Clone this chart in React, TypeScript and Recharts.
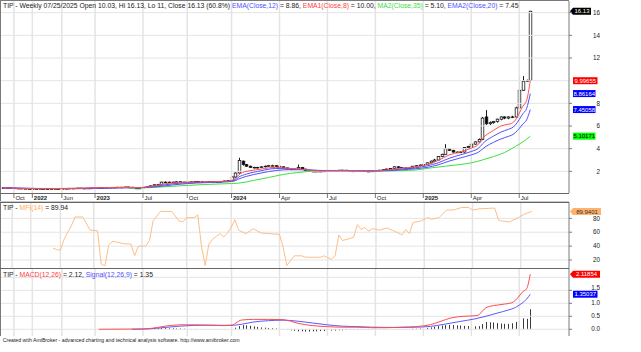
import React from 'react';
import { ComposedChart, Bar, Line, XAxis, YAxis, ReferenceLine } from 'recharts';

// weekly bars, index 0 = first visible week (Oct 2021)
const SLOTS = 154;

const opens = [
  0.55, 0.55, 0.54, 0.52, 0.5, 0.5, 0.48, 0.47, 0.45, 0.45,
  0.46, 0.47, 0.46, 0.45, 0.46, 0.47, 0.46, 0.47, 0.48, 0.5,
  0.5, 0.52, 0.5, 0.5, 0.51, 0.52, 0.53, 0.55, 0.55, 0.56,
  0.58, 0.58, 0.6, 0.6, 0.62, 0.6, 0.58, 0.46, 0.55, 0.6,
  0.65, 0.72, 0.82, 0.85, 1.05, 1.05, 1.02, 1.05, 1.08, 1.05,
  1.03, 1.05, 1.08, 1.1, 1.08, 1.05, 1.06, 1.1, 1.08, 1.05,
  1.1, 1.15, 1.2, 1.5, 1.85, 2.9, 2.6, 2.45, 2.35, 2.3,
  2.35, 2.4, 2.45, 2.5, 2.5, 2.45, 2.4, 2.3, 2.2, 2.15,
  2.2, 2.35, 2.2, 2.05, 2.0, 2.0, 1.98, 2.0, 2.02, 2.05,
  2.05, 2.08, 2.1, 2.1, 2.05, 2.0, 2.02, 2.05, 2.05, 2.0,
  2.0, 2.02, 2.05, 2.1, 2.15, 2.2, 2.25, 2.4, 2.35, 2.3,
  2.28, 2.3, 2.45, 2.5, 2.55, 2.6, 2.75, 2.9, 3.0, 3.3,
  3.5, 4.0, 3.85, 3.7, 3.65, 3.7, 4.1, 4.2, 4.4, 4.6,
  4.8, 6.8, 6.2, 6.3, 6.4, 6.6, 6.8, 6.7, 6.8, 6.8,
  7.6, 9.15, 9.95, 10.03,
];
const highs = [
  0.56, 0.56, 0.55, 0.53, 0.51, 0.51, 0.49, 0.48, 0.46, 0.47,
  0.48, 0.48, 0.47, 0.47, 0.48, 0.48, 0.48, 0.49, 0.51, 0.51,
  0.53, 0.53, 0.51, 0.52, 0.53, 0.54, 0.56, 0.56, 0.57, 0.59,
  0.6, 0.61, 0.62, 0.63, 0.63, 0.61, 0.6, 0.56, 0.62, 0.67,
  0.74, 0.84, 0.88, 1.08, 1.1, 1.08, 1.08, 1.1, 1.1, 1.07,
  1.07, 1.1, 1.12, 1.12, 1.1, 1.08, 1.12, 1.12, 1.1, 1.12,
  1.17, 1.22, 1.55, 1.9, 3.2, 2.95, 2.65, 2.5, 2.4, 2.4,
  2.45, 2.5, 2.55, 2.58, 2.55, 2.5, 2.42, 2.32, 2.25, 2.25,
  2.6, 2.38, 2.22, 2.08, 2.05, 2.03, 2.03, 2.05, 2.08, 2.08,
  2.1, 2.12, 2.14, 2.12, 2.07, 2.05, 2.07, 2.08, 2.07, 2.03,
  2.05, 2.08, 2.13, 2.18, 2.23, 2.28, 2.45, 2.45, 2.38, 2.33,
  2.33, 2.48, 2.55, 2.6, 2.65, 2.8, 2.95, 3.1, 3.35, 3.55,
  4.4, 4.05, 3.9, 3.75, 3.75, 4.15, 4.25, 4.45, 4.65, 4.9,
  6.8, 7.4, 6.4, 6.45, 6.65, 6.85, 6.85, 6.85, 6.9, 7.7,
  10.4, 10.4, 10.1, 16.13,
];
const lows = [
  0.54, 0.54, 0.51, 0.49, 0.49, 0.47, 0.46, 0.44, 0.44, 0.44,
  0.45, 0.45, 0.44, 0.44, 0.45, 0.45, 0.45, 0.46, 0.47, 0.49,
  0.49, 0.49, 0.49, 0.49, 0.5, 0.51, 0.52, 0.54, 0.54, 0.55,
  0.56, 0.57, 0.59, 0.59, 0.59, 0.57, 0.44, 0.45, 0.54, 0.59,
  0.64, 0.7, 0.8, 0.83, 1.0, 0.99, 1.0, 1.03, 1.03, 1.0,
  1.01, 1.03, 1.06, 1.06, 1.03, 1.03, 1.04, 1.06, 1.03, 1.04,
  1.08, 1.13, 1.18, 1.45, 1.8, 2.5, 2.4, 2.3, 2.25, 2.25,
  2.3, 2.35, 2.4, 2.45, 2.4, 2.35, 2.25, 2.15, 2.1, 2.12,
  2.15, 2.15, 2.0, 1.95, 1.95, 1.95, 1.96, 1.98, 2.0, 2.02,
  2.03, 2.05, 2.07, 2.02, 1.97, 1.98, 2.0, 2.02, 1.97, 1.97,
  1.98, 2.0, 2.05, 2.08, 2.13, 2.18, 2.22, 2.3, 2.27, 2.25,
  2.25, 2.28, 2.42, 2.48, 2.52, 2.58, 2.72, 2.85, 2.95, 3.25,
  3.45, 3.8, 3.65, 3.6, 3.6, 3.65, 4.05, 4.15, 4.35, 4.55,
  4.75, 6.1, 6.1, 6.2, 6.3, 6.5, 6.6, 6.6, 6.7, 6.75,
  7.5, 9.1, 9.9, 11,
];
const closes = [
  0.55, 0.54, 0.52, 0.5, 0.5, 0.48, 0.47, 0.45, 0.45, 0.46,
  0.47, 0.46, 0.45, 0.46, 0.47, 0.46, 0.47, 0.48, 0.5, 0.5,
  0.52, 0.5, 0.5, 0.51, 0.52, 0.53, 0.55, 0.55, 0.56, 0.58,
  0.58, 0.6, 0.6, 0.62, 0.6, 0.58, 0.46, 0.55, 0.6, 0.65,
  0.72, 0.82, 0.85, 1.05, 1.05, 1.02, 1.05, 1.08, 1.05, 1.03,
  1.05, 1.08, 1.1, 1.08, 1.05, 1.06, 1.1, 1.08, 1.05, 1.1,
  1.15, 1.2, 1.5, 1.85, 2.95, 2.6, 2.45, 2.35, 2.3, 2.35,
  2.4, 2.45, 2.5, 2.5, 2.45, 2.4, 2.3, 2.2, 2.15, 2.2,
  2.35, 2.2, 2.05, 2.0, 2.0, 1.98, 2.0, 2.02, 2.05, 2.05,
  2.08, 2.1, 2.1, 2.05, 2.0, 2.02, 2.05, 2.05, 2.0, 2.0,
  2.02, 2.05, 2.1, 2.15, 2.2, 2.25, 2.4, 2.35, 2.3, 2.28,
  2.3, 2.45, 2.5, 2.55, 2.6, 2.75, 2.9, 3.0, 3.3, 3.5,
  4.0, 3.85, 3.7, 3.65, 3.7, 4.1, 4.2, 4.4, 4.6, 4.8,
  6.7, 6.2, 6.3, 6.4, 6.6, 6.8, 6.7, 6.8, 6.75, 7.6,
  9.15, 9.95, 10.0, 16.13,
];

// moving averages: [bar index, value]
const ema8: [number, number][] = [
  [0, 0.55], [10, 0.47], [20, 0.5], [30, 0.58], [37, 0.56], [40, 0.66], [43, 0.85], [46, 0.98],
  [50, 1.04], [55, 1.07], [60, 1.12], [62, 1.2], [63, 1.35], [64, 1.7], [65, 1.9], [67, 2.05],
  [70, 2.2], [74, 2.35], [78, 2.25], [82, 2.15], [86, 2.02], [90, 2.05], [95, 2.05], [100, 2.03],
  [104, 2.12], [108, 2.28], [112, 2.4], [115, 2.6], [118, 2.95], [121, 3.45], [124, 3.7],
  [127, 4.05], [129, 4.4], [130, 4.9], [131, 5.2], [133, 5.6], [135, 6.0], [137, 6.15],
  [138, 6.24], [139, 6.54], [140, 7.12], [141, 7.75], [142, 8.25], [143, 10.0],
];
const ema12: [number, number][] = [
  [0, 0.55], [10, 0.48], [20, 0.49], [30, 0.56], [37, 0.56], [40, 0.62], [43, 0.76], [46, 0.9],
  [50, 0.99], [55, 1.04], [60, 1.09], [62, 1.14], [63, 1.25], [64, 1.5], [66, 1.75], [70, 2.05],
  [74, 2.25], [78, 2.22], [82, 2.16], [86, 2.06], [90, 2.05], [95, 2.05], [100, 2.03], [104, 2.08],
  [108, 2.2], [112, 2.32], [115, 2.48], [118, 2.75], [121, 3.15], [124, 3.45], [127, 3.75],
  [129, 4.05], [130, 4.4], [131, 4.7], [133, 5.1], [135, 5.45], [137, 5.7], [138, 5.83],
  [139, 6.1], [140, 6.57], [141, 7.09], [142, 7.54], [143, 8.86],
];
const ema20: [number, number][] = [
  [0, 0.55], [10, 0.49], [20, 0.48], [30, 0.54], [37, 0.56], [40, 0.6], [43, 0.68], [46, 0.8],
  [50, 0.92], [55, 1.0], [60, 1.06], [62, 1.1], [63, 1.17], [64, 1.33], [66, 1.55], [70, 1.85],
  [74, 2.07], [78, 2.15], [82, 2.13], [86, 2.08], [90, 2.06], [95, 2.05], [100, 2.03], [104, 2.05],
  [108, 2.13], [112, 2.23], [115, 2.35], [118, 2.57], [121, 2.9], [124, 3.18], [127, 3.45],
  [129, 3.7], [130, 3.95], [131, 4.2], [133, 4.55], [135, 4.85], [137, 5.08], [138, 5.2],
  [139, 5.43], [140, 5.78], [141, 6.18], [142, 6.54], [143, 7.45],
];
const ma35: [number, number][] = [
  [34, 0.52], [38, 0.54], [42, 0.6], [46, 0.68], [50, 0.76], [55, 0.84], [60, 0.9], [64, 0.96],
  [68, 1.2], [72, 1.45], [76, 1.72], [80, 1.9], [84, 2.02], [88, 2.08], [92, 2.08], [96, 2.06],
  [100, 2.05], [104, 2.04], [108, 2.06], [112, 2.12], [116, 2.3], [120, 2.45], [124, 2.6],
  [127, 2.75], [130, 3.0], [133, 3.3], [136, 3.65], [139, 4.2], [141, 4.6], [143, 5.1],
];

const mfi: [number, number][] = [
  [14, 37], [15, 35], [16, 34], [17, 50], [18, 60], [19, 70], [20, 82], [22, 82], [24, 63],
  [26, 62], [27, 14], [28, 11.5], [29, 41], [30, 47], [31, 46], [33, 43.5], [35, 43], [36, 26],
  [37, 40], [39, 40], [40, 48], [41, 77], [43, 90], [46, 90], [48, 76], [49, 75], [50, 81],
  [52, 81], [53, 85], [54, 40], [55, 12], [56, 43], [57, 50], [59, 58], [60, 53], [61, 59],
  [62, 67], [63, 78], [64, 63], [66, 58], [68, 65], [70, 59], [72, 58], [75, 57], [76, 38.5],
  [77, 12], [79, 26], [81, 26], [82, 24], [86, 24], [87, 26], [89, 21], [90, 26], [91, 56],
  [92, 48], [94, 51], [95, 53], [96, 71], [97, 64], [98, 67], [99, 61.5], [100, 65], [102, 63],
  [104, 66], [106, 61.5], [108, 56], [109, 64], [110, 58], [111, 74], [113, 76], [115, 81],
  [116, 78.5], [118, 81], [120, 92], [122, 92], [124, 95.6], [126, 95.6], [127, 92], [129, 93.7],
  [132, 94.6], [133, 94.6], [134, 77.6], [135, 76], [137, 75], [139, 80], [141, 86], [143, 89.94],
];

const macd: [number, number][] = [
  [26, 0], [32, 0.005], [38, 0.01], [40, 0.03], [42, 0.07], [44, 0.12], [46, 0.15], [48, 0.17],
  [52, 0.17], [56, 0.15], [60, 0.14], [62, 0.15], [63, 0.22], [64, 0.32], [65, 0.36], [68, 0.38],
  [72, 0.38], [76, 0.37], [78, 0.31], [80, 0.23], [84, 0.14], [88, 0.1], [92, 0.08], [96, 0.08],
  [100, 0.06], [104, 0.06], [108, 0.08], [112, 0.1], [114, 0.13], [116, 0.18], [118, 0.27],
  [120, 0.37], [122, 0.45], [125, 0.5], [128, 0.52], [129, 0.55], [130, 0.7], [131, 0.83],
  [132, 0.88], [134, 0.93], [136, 0.97], [138, 1.02], [139, 1.12], [140, 1.28], [141, 1.45],
  [142, 1.56], [143, 2.12],
];
const signal: [number, number][] = [
  [35, 0.0], [40, 0.02], [44, 0.07], [48, 0.12], [52, 0.15], [56, 0.16], [60, 0.15], [63, 0.16],
  [65, 0.2], [68, 0.28], [72, 0.33], [76, 0.35], [80, 0.31], [84, 0.24], [88, 0.17], [92, 0.12],
  [96, 0.1], [100, 0.08], [104, 0.07], [108, 0.07], [112, 0.08], [116, 0.11], [120, 0.2],
  [124, 0.3], [128, 0.4], [131, 0.5], [134, 0.62], [137, 0.74], [139, 0.84], [140, 0.93],
  [141, 1.03], [142, 1.16], [143, 1.35],
];
// histogram, one value per bar from HIST_START
const HIST_START = 38;
const histValues = [
  0.01, 0.02, 0.02, 0.03, 0.04, 0.05, 0.05, 0.04, 0.04, 0.03,
  0.03, 0.02, 0.02, 0.01, 0.01, 0.0, -0.01, -0.01, -0.01, -0.01,
  -0.01, -0.01, -0.01, 0.0, 0.0, 0.06, 0.12, 0.16, 0.15, 0.13,
  0.11, 0.09, 0.07, 0.06, 0.05, 0.04, 0.03, 0.02, 0.01, -0.02,
  -0.04, -0.06, -0.08, -0.08, -0.09, -0.09, -0.08, -0.08, -0.07, -0.07,
  -0.06, -0.05, -0.05, -0.04, -0.04, -0.03, -0.03, -0.02, -0.02, -0.02,
  -0.02, -0.02, -0.02, -0.01, -0.01, -0.01, -0.01, 0.0, 0.01, 0.01,
  0.01, 0.01, 0.01, 0.02, 0.02, 0.03, 0.04, 0.05, 0.07, 0.1,
  0.12, 0.14, 0.16, 0.17, 0.16, 0.15, 0.14, 0.13, 0.12, 0.11,
  0.11, 0.12, 0.2, 0.28, 0.27, 0.26, 0.24, 0.22, 0.21, 0.21,
  0.23, 0.28, 0.35, 0.42, 0.4, 0.77,
];

const dateTicks = [3, 8, 16, 25, 38, 50, 62, 75, 88, 101, 114, 127, 140];
const dateLabels = ['Oct', '2022', 'Jun', '2023', 'Jul', 'Oct', '2024', 'Apr', 'Jul', 'Oct', '2025', 'Apr', 'Jul'];

// grid levels, and the axis labels left visible beside the value tags
const priceGrid = [2, 4, 6, 8, 10, 12, 14, 16];
const priceTicks = [2, 4, 6, 8, 12, 14, 16];
const mfiTicks = [20, 40, 60, 80];
const macdGrid = [0, 0.5, 1, 1.5, 2];
const macdTicks = [0, 0.5, 1, 1.5];

const FONT = '"Liberation Sans", Arial, sans-serif';
const GRID = '#e4e4e4';
const AXIS = '#7a7a7a';

const pick = (pts: [number, number][], i: number) => {
  const p = pts.find((q) => q[0] === i);
  return p ? p[1] : null;
};

const rows = Array.from({ length: SLOTS }, (_, i) => {
  const has = i < closes.length;
  const hv = i >= HIST_START && i - HIST_START < histValues.length ? histValues[i - HIST_START] : null;
  return {
    i,
    o: has ? opens[i] : null,
    h: has ? highs[i] : null,
    l: has ? lows[i] : null,
    c: has ? closes[i] : null,
    hl: has ? [Math.min(lows[i], opens[i]), highs[i]] : null,
    ema8: pick(ema8, i),
    ema12: pick(ema12, i),
    ema20: pick(ema20, i),
    ma35: pick(ma35, i),
    mfi: pick(mfi, i),
    macd: pick(macd, i),
    signal: pick(signal, i),
    hist: hv,
  };
});

const Candle = (props: any) => {
  const { x, y, width, height, payload } = props;
  if (!payload || payload.c == null || x == null) return null;
  const cx = Math.round(x + width / 2) + 0.5;
  const top = Math.min(y, y + height);
  const bot = Math.max(y, y + height);
  const lo = payload.hl[0];
  const span = payload.h - lo;
  const k = span > 0 ? (bot - top) / span : 0;
  const yo = top + (payload.h - payload.o) * k;
  const yc = top + (payload.h - payload.c) * k;
  const yl = top + (payload.h - payload.l) * k;
  const up = payload.c >= payload.o;
  const bTop = Math.min(yo, yc);
  const bH = Math.max(Math.abs(yo - yc), 0.6);
  return (
    <g>
      <line x1={cx} x2={cx} y1={top} y2={yl} stroke="#1a1a1a" strokeWidth={1} />
      <rect x={cx - 1.3} y={bTop} width={2.6} height={bH} fill={up ? '#ffffff' : '#000000'} stroke="#1a1a1a" strokeWidth={0.8} />
    </g>
  );
};

const HistBar = (props: any) => {
  const { x, y, width, height } = props;
  if (x == null || !height) return null;
  const cx = Math.round(x + width / 2) + 0.5;
  return <line x1={cx} x2={cx} y1={y} y2={y + height} stroke="#3a3a3a" strokeWidth={1} />;
};

// lift: labels that sit half under a value tag are nudged up a little
const AxisTick = (props: any) => {
  const { y, payload, fmt, lift } = props;
  const dy = lift && lift[payload.value] ? lift[payload.value] : 0;
  return (
    <text x={600} y={y + 2.2 - dy} textAnchor="end" fontSize={6.3} fill="#222">
      {fmt ? fmt(payload.value) : payload.value}
    </text>
  );
};

function Tag(props: any) {
  const { viewBox, text, bg, fg, arrow, w } = props;
  if (!viewBox) return null;
  const right = viewBox.x + viewBox.width;
  const cy = viewBox.y;
  const x0 = right + 4;
  const h = 7;
  const d = arrow
    ? `M${right + 1},${cy} L${x0},${cy - h / 2} L${x0 + w},${cy - h / 2} L${x0 + w},${cy + h / 2} L${x0},${cy + h / 2} Z`
    : `M${x0},${cy - h / 2} h${w} v${h} h${-w} Z`;
  return (
    <g>
      <path d={d} fill={bg} />
      <text x={x0 + w / 2} y={cy + 2.2} textAnchor="middle" fontSize={6} fill={fg}>
        {text}
      </text>
    </g>
  );
}

function DateLabel(props: any) {
  const { viewBox, text } = props;
  if (!viewBox) return null;
  const x = viewBox.x;
  const bottom = viewBox.y + viewBox.height;
  const bold = /^\d+$/.test(text);
  return (
    <g>
      <line x1={x} x2={x} y1={bottom + 1} y2={bottom + 5} stroke="#555" strokeWidth={0.8} />
      <text x={x + 1.5} y={bottom + 7.2} fontSize={6} fontWeight={bold ? 'bold' : 'normal'} fill="#222">
        {text}
      </text>
    </g>
  );
}

const vGrid = (withLabels: boolean) =>
  dateTicks.map((t, k) => (
    <ReferenceLine
      key={'v' + t}
      x={t}
      stroke={GRID}
      strokeWidth={1.5}
      label={withLabels ? <DateLabel text={dateLabels[k]} /> : undefined}
    />
  ));

const hGrid = (ticks: number[]) =>
  ticks.map((t) => <ReferenceLine key={'h' + t} y={t} stroke={GRID} strokeWidth={1} />);

const yAxisProps = {
  orientation: 'right' as const,
  width: 72,
  allowDataOverflow: true,
  interval: 0 as const,
  tickSize: 3,
  tickLine: { stroke: AXIS },
  axisLine: { stroke: AXIS },
};

function PricePane() {
  return (
    <ComposedChart width={641} height={202} data={rows} margin={{ top: 1, right: 0, bottom: 9, left: 1 }}>
      <XAxis dataKey="i" type="category" hide />
      <YAxis {...yAxisProps} domain={[0.088, 17.03]} ticks={priceTicks} tick={<AxisTick />} />
      {hGrid(priceGrid)}
      {vGrid(true)}
      <Bar dataKey="hl" shape={<Candle />} isAnimationActive={false} />
      <Line dataKey="ma35" stroke="#3ee03e" strokeWidth={1} dot={false} connectNulls type="monotone" isAnimationActive={false} />
      <Line dataKey="ema20" stroke="#5050ff" strokeWidth={1} dot={false} connectNulls type="monotone" isAnimationActive={false} />
      <Line dataKey="ema12" stroke="#5050ff" strokeWidth={1} dot={false} connectNulls type="monotone" isAnimationActive={false} />
      <Line dataKey="ema8" stroke="#ff5050" strokeWidth={1} dot={false} connectNulls type="monotone" isAnimationActive={false} />
      <ReferenceLine y={closes[closes.length - 1]} stroke="none" label={<Tag text="16.13" bg="#000" fg="#fff" w={18} arrow />} />
      <ReferenceLine y={9.99655} stroke="none" label={<Tag text="9.99655" bg="#ff0000" fg="#fff" w={24.5} />} />
      <ReferenceLine y={8.86164} stroke="none" label={<Tag text="8.86164" bg="#0000ff" fg="#fff" w={22.5} />} />
      <ReferenceLine y={7.45058} stroke="none" label={<Tag text="7.45058" bg="#0000ff" fg="#fff" w={22.5} />} />
      <ReferenceLine y={5.10171} stroke="none" label={<Tag text="5.10171" bg="#00ff00" fg="#000" w={22.5} />} />
    </ComposedChart>
  );
}

function MfiPane() {
  return (
    <ComposedChart width={641} height={66} data={rows} margin={{ top: 0, right: 0, bottom: 0, left: 1 }}>
      <XAxis dataKey="i" type="category" hide />
      <YAxis {...yAxisProps} domain={[8.5, 103.5]} ticks={mfiTicks} tick={<AxisTick />} />
      {hGrid(mfiTicks)}
      {vGrid(false)}
      <Line dataKey="mfi" stroke="#ffbe85" strokeWidth={1} dot={false} connectNulls type="linear" isAnimationActive={false} />
      <ReferenceLine y={89.9401} stroke="none" label={<Tag text="89.9401" bg="#ffb26b" fg="#333" w={28} arrow />} />
    </ComposedChart>
  );
}

function MacdPane() {
  return (
    <ComposedChart width={641} height={68} data={rows} margin={{ top: 0, right: 0, bottom: 0, left: 1 }}>
      <XAxis dataKey="i" type="category" hide />
      <YAxis
        {...yAxisProps}
        domain={[-0.26, 2.36]}
        ticks={macdTicks}
        tick={<AxisTick fmt={(v: number) => v.toFixed(1)} lift={{ 1.5: 2.2 }} />}
      />
      {hGrid(macdGrid)}
      {vGrid(false)}
      <Bar dataKey="hist" shape={<HistBar />} isAnimationActive={false} />
      <Line dataKey="signal" stroke="#5a5aff" strokeWidth={1} dot={false} connectNulls type="monotone" isAnimationActive={false} />
      <Line dataKey="macd" stroke="#ff4c4c" strokeWidth={1} dot={false} connectNulls type="monotone" isAnimationActive={false} />
      <ReferenceLine y={2.11854} stroke="none" label={<Tag text="2.11854" bg="#ff0000" fg="#fff" w={27} arrow />} />
      <ReferenceLine y={1.35037} stroke="none" label={<Tag text="1.35037" bg="#0000ff" fg="#fff" w={24.5} />} />
    </ComposedChart>
  );
}

export default function App() {
  return (
    <div style={{ position: 'absolute', left: 0, top: 0, width: 641, height: 352, background: '#fff', fontFamily: FONT, overflow: 'hidden' }}>
      <div style={{ position: 'absolute', left: 0, top: 0 }}>
        <PricePane />
      </div>
      <div style={{ position: 'absolute', left: 0, top: 202 }}>
        <MfiPane />
      </div>
      <div style={{ position: 'absolute', left: 0, top: 268 }}>
        <MacdPane />
      </div>
      <svg width={641} height={352} style={{ position: 'absolute', left: 0, top: 0, pointerEvents: 'none' }}>
        <line x1={0.5} x2={0.5} y1={0} y2={336} stroke={AXIS} />
        <line x1={0} x2={569} y1={0.5} y2={0.5} stroke={AXIS} />
        <line x1={0} x2={569} y1={193.5} y2={193.5} stroke="#666" />
        <line x1={0} x2={569} y1={201.5} y2={201.5} stroke="#c8c8c8" />
        <line x1={0} x2={569} y1={202.5} y2={202.5} stroke="#666" />
        <line x1={0} x2={569} y1={268.5} y2={268.5} stroke="#666" />
        <text x={3} y={7.6} fontSize={6.8} fill="#222">
          <tspan>TIP - Weekly 07/25/2025 Open 10.03, Hi 16.13, Lo 11, Close 16.13 (60.8%) </tspan>
          <tspan fill="#4f4fff">EMA(Close,12)</tspan>
          <tspan> = 8.86, </tspan>
          <tspan fill="#ff4040">EMA1(Close,8)</tspan>
          <tspan> = 10.00, </tspan>
          <tspan fill="#3ddc3d">MA2(Close,35)</tspan>
          <tspan> = 5.10, </tspan>
          <tspan fill="#4f4fff">EMA2(Close,20)</tspan>
          <tspan> = 7.45</tspan>
        </text>
        <text x={3} y={209.6} fontSize={6.8} fill="#222">
          <tspan>TIP - </tspan>
          <tspan fill="#ffaa60">MFI(14)</tspan>
          <tspan> = 89.94</tspan>
        </text>
        <text x={3} y={276.6} fontSize={6.8} fill="#222">
          <tspan>TIP - </tspan>
          <tspan fill="#ff4040">MACD(12,26)</tspan>
          <tspan> = 2.12, </tspan>
          <tspan fill="#4f4fff">Signal(12,26,9)</tspan>
          <tspan> = 1.35</tspan>
        </text>
        <text x={2.7} y={341.6} fontSize={5.2} fill="#222">
          Created with AmiBroker - advanced charting and technical analysis software. http://www.amibroker.com
        </text>
      </svg>
    </div>
  );
}
